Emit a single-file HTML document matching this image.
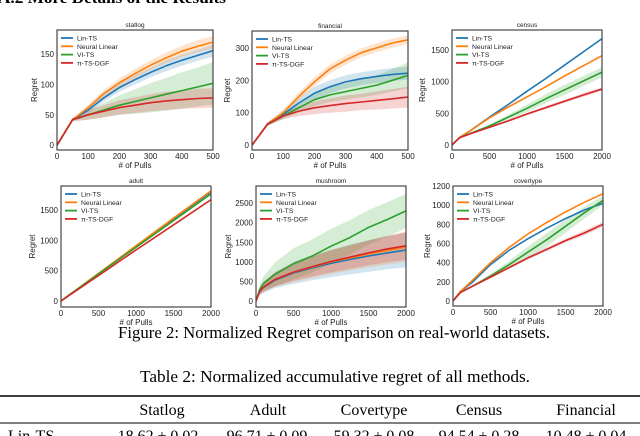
<!DOCTYPE html>
<html><head><meta charset="utf-8"><style>
html,body{margin:0;padding:0;background:#fff;width:640px;height:436px;overflow:hidden}
svg{display:block}
</style></head><body>
<svg id="fig" width="640" height="436" viewBox="0 0 640 436" xmlns="http://www.w3.org/2000/svg">
<text x="-2" y="3" font-family="Liberation Serif, serif" font-weight="bold" font-size="16" textLength="228" lengthAdjust="spacingAndGlyphs">A.2   More Details of the Results</text>
<g id="plots"></g>
<text x="334" y="338" text-anchor="middle" font-family="Liberation Serif, serif" font-size="16.5" textLength="432" lengthAdjust="spacingAndGlyphs">Figure 2: Normalized Regret comparison on real-world datasets.</text>
<text x="335" y="382" text-anchor="middle" font-family="Liberation Serif, serif" font-size="16.5" textLength="390" lengthAdjust="spacingAndGlyphs">Table 2:  Normalized accumulative regret of all methods.</text>
<line x1="0" x2="640" y1="396" y2="396" stroke="#000" stroke-width="1.6"/>
<g font-family="Liberation Serif, serif" font-size="16" text-anchor="middle">
<text x="162" y="415">Statlog</text>
<text x="268" y="415">Adult</text>
<text x="374" y="415">Covertype</text>
<text x="479" y="415">Census</text>
<text x="586" y="415">Financial</text>
</g>
<line x1="0" x2="640" y1="423" y2="423" stroke="#000" stroke-width="0.9"/>
<g font-family="Liberation Serif, serif" font-size="16">
<text x="8" y="441">Lin-TS</text>
<g text-anchor="middle">
<text x="158" y="441">18.62 ± 0.02</text>
<text x="267" y="441">96.71 ± 0.09</text>
<text x="374" y="441">59.32 ± 0.08</text>
<text x="479" y="441">94.54 ± 0.28</text>
<text x="586" y="441">10.48 ± 0.04</text>
</g></g>
</svg>
<script>
const seriesNames = ["Lin-TS","Neural Linear","VI-TS","π-TS-DGF"];
const seriesColors = ["#1f77b4","#ff7f0e","#2ca02c","#d62728"];
const seriesKeys = ["lin","neural","vi","dgf"];

const statlogX = [0,50,100,150,200,250,300,350,400,450,500];
const statlogLin = [0,42,58,78,95,108,120,131,140,148,156];
const statlogNeural = [0,42,62,85,103,118,132,144,155,163,170];
const statlogVi = [0,42,50,58,66,72,78,84,90,96,102];
const statlogDgf = [0,42,50,56,62,66,70,73,75,77,78];
const statlogLinBand = [0,2,5,6,7,8,8,9,9,9,10];
const statlogNeuralBand = [0,2,5,6,7,8,8,9,9,10,10];
const statlogViBand = [0,2,8,12,16,20,24,27,30,32,35];
const statlogDgfBand = [0,3,8,10,12,13,14,15,15,16,16];
const statlogYTicks = [0,50,100,150];
const statlogXTicks = [0,100,200,300,400,500];

const financialX = [0,50,100,150,200,250,300,350,400,450,500];
const financialLin = [0,65,95,130,160,180,195,205,212,218,222];
const financialNeural = [0,65,100,150,195,235,262,285,300,315,325];
const financialVi = [0,65,90,115,140,155,165,175,185,200,215];
const financialDgf = [0,65,90,105,115,122,128,133,138,143,148];
const financialLinBand = [0,5,10,15,20,20,20,20,20,20,20];
const financialNeuralBand = [0,5,10,12,14,14,14,14,14,14,14];
const financialViBand = [0,5,10,15,20,22,25,28,30,35,40];
const financialDgfBand = [0,5,10,15,20,22,25,25,28,30,32];
const financialYTicks = [0,100,200,300];
const financialXTicks = [0,100,200,300,400,500];

const censusX = [0,100,250,500,750,1000,1250,1500,1750,2000];
const censusLin = [0,115,230,440,640,850,1050,1260,1470,1680];
const censusNeural = [0,120,230,430,600,760,920,1090,1250,1410];
const censusVi = [0,115,185,300,440,580,730,870,1010,1150];
const censusDgf = [0,115,180,280,380,490,590,690,790,885];
const censusLinBand = [0,3,4,5,5,5,5,6,6,6];
const censusNeuralBand = [0,3,4,5,5,5,5,6,6,6];
const censusViBand = [0,5,10,20,40,60,70,80,80,80];
const censusDgfBand = [0,5,8,10,15,20,25,25,30,30];
const censusYTicks = [0,500,1000,1500];
const censusXTicks = [0,500,1000,1500,2000];

const adultX = [0,500,1000,1500,2000];
const adultLin = [0,450,900,1350,1800];
const adultNeural = [0,455,910,1365,1815];
const adultVi = [0,445,885,1325,1765];
const adultDgf = [0,418,840,1255,1670];
const adultLinBand = [0,5,8,10,12];
const adultNeuralBand = [0,5,8,10,12];
const adultViBand = [0,5,8,10,12];
const adultDgfBand = [0,5,8,10,12];
const adultYTicks = [0,500,1000,1500];
const adultXTicks = [0,500,1000,1500,2000];

const mushroomX = [0,50,100,250,500,750,1000,1250,1500,1750,2000];
const mushroomLin = [0,250,350,530,720,850,960,1060,1150,1230,1300];
const mushroomNeural = [0,260,360,550,740,870,1000,1100,1200,1290,1380];
const mushroomVi = [0,300,450,680,950,1150,1400,1620,1880,2080,2300];
const mushroomDgf = [0,260,360,550,740,880,1010,1120,1230,1330,1410];
const mushroomLinBand = [0,100,150,200,280,320,350,380,400,420,440];
const mushroomNeuralBand = [0,80,120,180,250,280,300,320,340,360,380];
const mushroomViBand = [0,120,180,300,400,420,440,440,440,440,440];
const mushroomDgfBand = [0,80,120,180,220,250,280,300,320,340,360];
const mushroomYTicks = [0,500,1000,1500,2000,2500];
const mushroomXTicks = [0,500,1000,1500,2000];

const covertypeX = [0,100,250,500,750,1000,1250,1500,1750,2000];
const covertypeLin = [0,100,190,380,530,650,760,860,950,1020];
const covertypeNeural = [0,100,210,400,560,700,820,930,1030,1120];
const covertypeVi = [0,90,150,260,380,510,640,780,920,1050];
const covertypeDgf = [0,90,150,250,350,450,540,630,710,800];
const covertypeLinBand = [0,3,4,5,5,5,5,6,6,6];
const covertypeNeuralBand = [0,3,4,5,5,5,5,6,6,6];
const covertypeViBand = [0,5,10,20,40,60,70,70,60,50];
const covertypeDgfBand = [0,5,8,10,12,15,20,20,25,25];
const covertypeYTicks = [0,200,400,600,800,1000,1200];
const covertypeXTicks = [0,500,1000,1500,2000];

const NS = "http://www.w3.org/2000/svg";
const root = document.getElementById("plots");
function mk(tag, attrs, parent){
  const e = document.createElementNS(NS, tag);
  for (const k in attrs) e.setAttribute(k, attrs[k]);
  parent.appendChild(e); return e;
}
function panel(name, box, xr, yr, xs, ys, bands, xt, yt, labelOff){
  const g = mk("g", {}, root);
  
  
  const [L,T,R,B] = box;
  const sx = v => L + (v - xr[0]) / (xr[1] - xr[0]) * (R - L);
  const sy = v => B - (v - yr[0]) / (yr[1] - yr[0]) * (B - T);
  const fr = mk("rect", {x:L, y:T, width:R-L, height:B-T, fill:"#fff", stroke:"#444", "stroke-width":1.1}, g);
  
  
  const clip = mk("clipPath", {id:"c-"+name}, g);
  mk("rect", {x:L, y:T, width:R-L, height:B-T}, clip);
  const inner = mk("g", {"clip-path":"url(#c-"+name+")"}, g);
  for (let s=0; s<4; s++){
    const y = ys[s], b = bands[s];
    let d = "";
    for (let i=0;i<xs.length;i++) d += (i?"L":"M") + sx(xs[i]).toFixed(1) + "," + sy(y[i]+b[i]).toFixed(1);
    for (let i=xs.length-1;i>=0;i--) d += "L" + sx(xs[i]).toFixed(1) + "," + sy(y[i]-b[i]).toFixed(1);
    const p = mk("path", {d:d+"Z", fill:seriesColors[s], "fill-opacity":0.2, stroke:"none"}, inner);
    
    
  }
  for (let s=0; s<4; s++){
    const y = ys[s];
    let d = "";
    for (let i=0;i<xs.length;i++) d += (i?"L":"M") + sx(xs[i]).toFixed(1) + "," + sy(y[i]).toFixed(1);
    const p = mk("path", {d:d, fill:"none", stroke:seriesColors[s], "stroke-width":1.6, "stroke-linejoin":"round"}, inner);
    
    
  }
  mk("rect", {x:L, y:T, width:R-L, height:B-T, fill:"none", stroke:"#444", "stroke-width":1.1}, g);
  for (const v of yt){
    const t = mk("text", {x:L-3, y:sy(v)+3, "text-anchor":"end", "font-size":8, fill:"#222", "font-family":"Liberation Sans, sans-serif"}, g);
    t.textContent = v;
    
    
  }
  for (const v of xt){
    const t = mk("text", {x:sx(v), y:B+9, "text-anchor":"middle", "font-size":8, fill:"#222", "font-family":"Liberation Sans, sans-serif"}, g);
    t.textContent = v;
    
    
  }
  const ti = mk("text", {x:(L+R)/2, y:T-3, "text-anchor":"middle", "font-size":6.5, fill:"#222", "font-family":"Liberation Sans, sans-serif"}, g);
  ti.textContent = name;
  
  
  const xl = mk("text", {x:(L+R)/2, y:B+18, "text-anchor":"middle", "font-size":8, fill:"#222", "font-family":"Liberation Sans, sans-serif"}, g);
  xl.textContent = "# of Pulls";
  
  
  const yx = L - labelOff, yy = (T+B)/2;
  const yl = mk("text", {x:yx, y:yy, "text-anchor":"middle", "font-size":8, fill:"#222", "font-family":"Liberation Sans, sans-serif", transform:"rotate(-90 "+yx+" "+yy+")"}, g);
  yl.textContent = "Regret";
  
  
  for (let s=0; s<4; s++){
    const ly = T + 8 + s*8.3;
    const lg = mk("g", {}, g);
    
    
    mk("line", {x1:L+4, x2:L+16, y1:ly, y2:ly, stroke:seriesColors[s], "stroke-width":1.8}, lg);
    const t = mk("text", {x:L+20, y:ly+2.5, "font-size":6.8, fill:"#222", "font-family":"Liberation Sans, sans-serif"}, lg);
    t.textContent = seriesNames[s];
  }
}
panel("statlog",[57,30,213,150],[0,500],[-8,190],statlogX,
  [statlogLin,statlogNeural,statlogVi,statlogDgf],[statlogLinBand,statlogNeuralBand,statlogViBand,statlogDgfBand],statlogXTicks,statlogYTicks,20);
panel("financial",[252,31,408,150],[0,500],[-15,352],financialX,
  [financialLin,financialNeural,financialVi,financialDgf],[financialLinBand,financialNeuralBand,financialViBand,financialDgfBand],financialXTicks,financialYTicks,22);
panel("census",[452,30,602,150],[0,2000],[-79,1816],censusX,
  [censusLin,censusNeural,censusVi,censusDgf],[censusLinBand,censusNeuralBand,censusViBand,censusDgfBand],censusXTicks,censusYTicks,27);
panel("adult",[61,186,211,307],[0,2000],[-99,1896],adultX,
  [adultLin,adultNeural,adultVi,adultDgf],[adultLinBand,adultNeuralBand,adultViBand,adultDgfBand],adultXTicks,adultYTicks,26);
panel("mushroom",[256,186,406,307],[0,2000],[-150,2934],mushroomX,
  [mushroomLin,mushroomNeural,mushroomVi,mushroomDgf],[mushroomLinBand,mushroomNeuralBand,mushroomViBand,mushroomDgfBand],mushroomXTicks,mushroomYTicks,25);
panel("covertype",[453,186,603,306],[0,2000],[-52,1200],covertypeX,
  [covertypeLin,covertypeNeural,covertypeVi,covertypeDgf],[covertypeLinBand,covertypeNeuralBand,covertypeViBand,covertypeDgfBand],covertypeXTicks,covertypeYTicks,23);
</script>
</body></html>
